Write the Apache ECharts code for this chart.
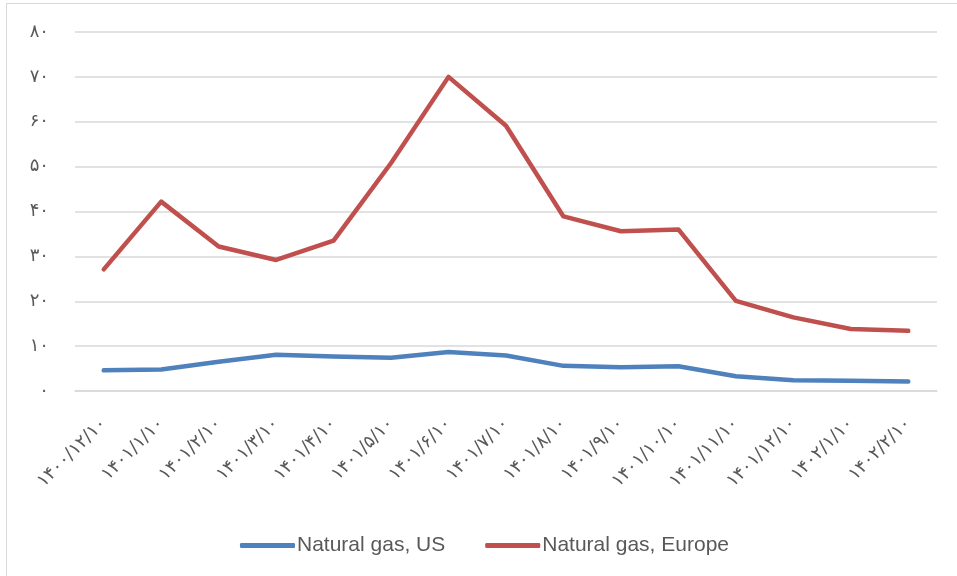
<!DOCTYPE html>
<html>
<head>
<meta charset="utf-8">
<script src="https://cdn.jsdelivr.net/npm/echarts@6/dist/echarts.min.js"></script>
<style>
  html, body { margin: 0; padding: 0; background: #fff; overflow: hidden; }
  #frame { position: absolute; left: 6px; top: 3px; width: 1200px; height: 900px; border: 1px solid #d9d9d9; }
  #chart { position: absolute; left: 0; top: 0; width: 957px; height: 576px; }
</style>
</head>
<body>
<div id="frame"></div>
<div id="chart"></div>
<script>
// تاریخ ها (شمسی)
var categories = ['۱۴۰۰/۱۲/۱۰', '۱۴۰۱/۱/۱۰', '۱۴۰۱/۲/۱۰', '۱۴۰۱/۳/۱۰', '۱۴۰۱/۴/۱۰', '۱۴۰۱/۵/۱۰', '۱۴۰۱/۶/۱۰',
  '۱۴۰۱/۷/۱۰', '۱۴۰۱/۸/۱۰', '۱۴۰۱/۹/۱۰', '۱۴۰۱/۱۰/۱۰', '۱۴۰۱/۱۱/۱۰', '۱۴۰۱/۱۲/۱۰', '۱۴۰۲/۱/۱۰', '۱۴۰۲/۲/۱۰'];

var seriesNames = ['Natural gas, US', 'Natural gas, Europe'];
var gasUS = [4.6, 4.8, 6.5, 8.1, 7.7, 7.4, 8.7, 7.9, 5.6, 5.3, 5.5, 3.3, 2.4, 2.3, 2.1];
var gasEurope = [27.1, 42.2, 32.2, 29.2, 33.5, 50.8, 70.0, 59.1, 38.9, 35.6, 36.0, 20.1, 16.4, 13.8, 13.4];

var yTicks = { min: 0, max: 80, interval: 10 };

var faDigits = '۰۱۲۳۴۵۶۷۸۹';
function toFa(n) {
  return String(n).replace(/[0-9]/g, function (d) { return faDigits[+d]; });
}

var chart = echarts.init(document.getElementById('chart'));
chart.setOption({
  animation: false,
  grid: { left: 75, right: 20, top: 32, bottom: 185, containLabel: false },
  legend: {
    left: 235,
    top: 530,
    icon: 'roundRect',
    itemWidth: 55,
    itemHeight: 5,
    itemGap: 40,
    textStyle: { fontFamily: 'Liberation Sans', fontSize: 21, color: '#595959', padding: [0, 0, 0, -3] },
    data: seriesNames
  },
  xAxis: {
    type: 'category',
    data: categories,
    boundaryGap: true,
    axisLine: { lineStyle: { color: '#d9d9d9', width: 1.5 } },
    axisTick: { show: false },
    axisLabel: {
      rotate: 45,
      margin: 30,
      interval: 0,
      fontFamily: 'DejaVu Sans',
      fontSize: 18,
      color: '#595959'
    }
  },
  yAxis: {
    type: 'value',
    min: yTicks.min,
    max: yTicks.max,
    interval: yTicks.interval,
    axisLine: { show: false },
    axisTick: { show: false },
    splitLine: { lineStyle: { color: '#d9d9d9', width: 1.5 } },
    axisLabel: {
      margin: 26,
      fontFamily: 'DejaVu Sans',
      fontSize: 18,
      color: '#595959',
      formatter: function (v) { return toFa(v); }
    }
  },
  series: [
    {
      name: seriesNames[0],
      type: 'line',
      data: gasUS,
      symbol: 'none',
      lineStyle: { color: '#4f81bd', width: 4.5, cap: 'round', join: 'round' },
      itemStyle: { color: '#4f81bd' }
    },
    {
      name: seriesNames[1],
      type: 'line',
      data: gasEurope,
      symbol: 'none',
      lineStyle: { color: '#c0504d', width: 4.5, cap: 'round', join: 'round' },
      itemStyle: { color: '#c0504d' }
    }
  ]
});
</script>
</body>
</html>
